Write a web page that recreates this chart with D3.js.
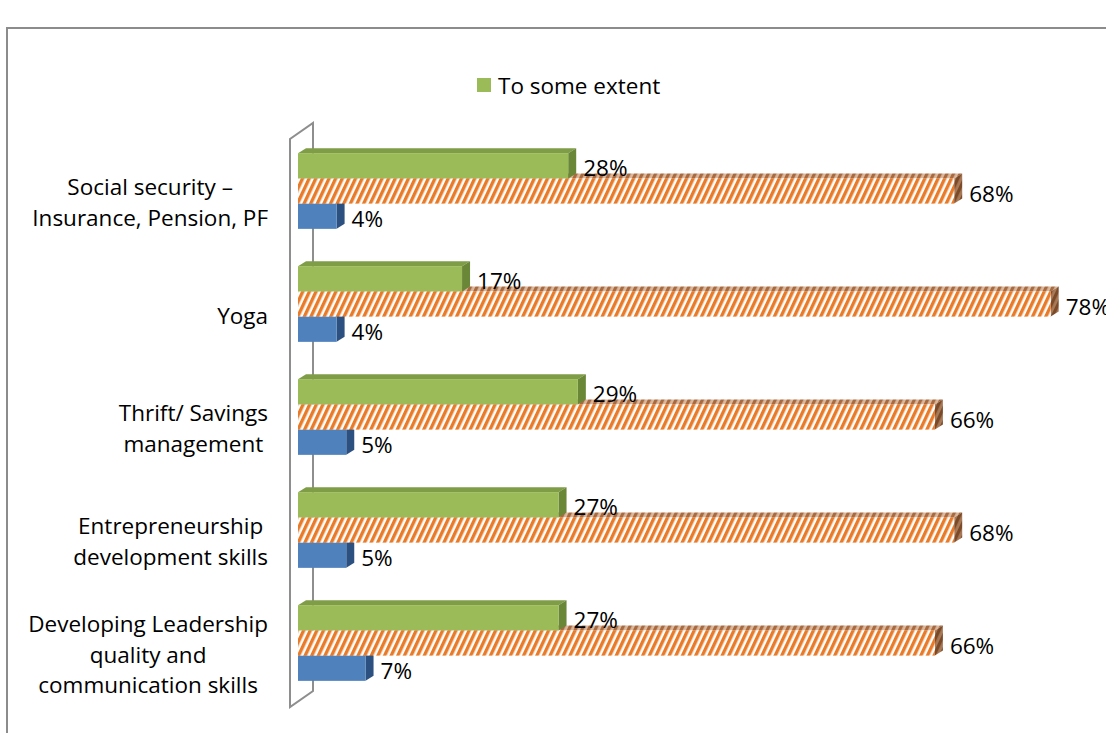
<!DOCTYPE html>
<html>
<head>
<meta charset="utf-8">
<script src="https://cdn.jsdelivr.net/npm/d3@7"></script>
<style>
  html, body { margin: 0; padding: 0; background: #fff; }
  svg { display: block; }
  text { font-family: "Open Sans", "Liberation Sans", sans-serif; fill: #000; }
</style>
</head>
<body>
<svg id="chart" width="1106" height="733"></svg>
<script>
// Training areas (multi-line labels split on "\n")
const categories = [
  "Social security –\nInsurance, Pension, PF",
  "Yoga",
  "Thrift/ Savings\nmanagement ",
  "Entrepreneurship\ndevelopment skills",
  "Developing Leadership\nquality and\ncommunication skills"
];
const seriesNames = ["To some extent", "To a great extent", "Not at all"];
const someExtent  = [0.28, 0.17, 0.29, 0.27, 0.27];
const greatExtent = [0.68, 0.78, 0.66, 0.68, 0.66];
const notAtAll    = [0.04, 0.04, 0.05, 0.05, 0.07];

const svg = d3.select("#chart");
const W = 1106, H = 733;
const FS = 22.5;

// chart frame
svg.append("path")
  .attr("d", `M7,${H} L7,28 L${W},28`)
  .attr("fill", "none").attr("stroke", "#8c8c8c").attr("stroke-width", 2);

const x = d3.scaleLinear().domain([0, 0.8]).range([298, 1070]);
const y = d3.scaleBand().domain(d3.range(categories.length))
  .range([134.5, 699.5]).paddingInner(0.33).paddingOuter(0.165);
const ySub = d3.scaleBand().domain(d3.range(3)).range([0, y.bandwidth()]);

const DX = 8, DY = 5;        // bar depth offset
const WX = 23, WY = 16;      // wall depth offset

// pattern fills for the hatched series
const defs = svg.append("defs");
function stripes(id, bg, fg, w) {
  const p = defs.append("pattern").attr("id", id)
    .attr("patternUnits", "userSpaceOnUse")
    .attr("width", 6).attr("height", 6)
    .attr("patternTransform", "rotate(25)");
  p.append("rect").attr("width", 6).attr("height", 6).attr("fill", bg);
  p.append("rect").attr("width", w).attr("height", 6).attr("fill", fg);
}
stripes("hatchFront", "#ffffff", "#e87a28", 3.4);
stripes("hatchTop", "#dcb89c", "#a86a40", 3.2);
stripes("hatchSide", "#a87a58", "#7b4a28", 3.2);

const styles = [
  { front: "#9bbb59", top: "#7f9c47", side: "#6a8738" },
  { front: "url(#hatchFront)", top: "url(#hatchTop)", side: "url(#hatchSide)" },
  { front: "#4f81bd", top: "#3e6aa0", side: "#2c5080" }
];
const series = [someExtent, greatExtent, notAtAll];

// 3D wall on the category axis
const wallTop = y.range()[0] + 4.5, wallBot = y.range()[1] + 7.5;
const x0 = x(0) - 8;
const wall = svg.append("g").attr("fill", "none").attr("stroke", "#8e8e8e").attr("stroke-width", 2);
wall.append("path").attr("d",
  `M${x0},${wallBot} L${x0},${wallTop} L${x0 + WX},${wallTop - WY} L${x0 + WX},${wallBot - WY} Z`);

// bars, drawn bottom series first so upper bars overlap top faces
const bars = svg.append("g");
categories.forEach((c, i) => {
  for (let s = 2; s >= 0; s--) {
    const v = series[s][i];
    const y0 = y(i) + ySub(s), h = ySub.bandwidth();
    const xa = x(0), xb = x(v);
    const st = styles[s];
    const g = bars.append("g");
    g.append("path").attr("fill", st.top)
      .attr("d", `M${xa},${y0} L${xa + DX},${y0 - DY} L${xb + DX},${y0 - DY} L${xb},${y0} Z`);
    g.append("path").attr("fill", st.side)
      .attr("d", `M${xb},${y0} L${xb + DX},${y0 - DY} L${xb + DX},${y0 + h - DY} L${xb},${y0 + h} Z`);
    g.append("rect").attr("x", xa).attr("y", y0).attr("width", xb - xa).attr("height", h)
      .attr("fill", st.front);
  }
});

// value labels
categories.forEach((c, i) => {
  for (let s = 0; s < 3; s++) {
    const v = series[s][i];
    svg.append("text")
      .attr("x", x(v) + DX + 7)
      .attr("y", y(i) + ySub(s) + ySub.bandwidth() / 2 + 2)
      .attr("dominant-baseline", "central")
      .attr("font-size", FS)
      .text(d3.format(".0%")(v));
  }
});

// category labels: lines centred on each other, block right-aligned to the axis
const labelRight = 268, lineH = 30.5;
categories.forEach((c, i) => {
  const lines = c.split("\n");
  const g = svg.append("g");
  const ts = lines.map(l => g.append("text").attr("font-size", FS).attr("text-anchor", "middle")
    .attr("dominant-baseline", "central").text(l));
  const maxW = d3.max(ts, t => t.node().getComputedTextLength());
  const cy = y(i) + y.bandwidth() / 2 + 11;
  ts.forEach((t, k) => {
    t.attr("x", labelRight - maxW / 2)
     .attr("y", cy + (k - (lines.length - 1) / 2) * lineH);
  });
});

// legend
const lg = svg.append("g").attr("transform", "translate(477,78)");
lg.append("rect").attr("width", 14).attr("height", 14).attr("fill", "#9bbb59");
lg.append("text").attr("x", 21).attr("y", 7.5).attr("dominant-baseline", "central")
  .attr("font-size", FS).text(seriesNames[0]);
</script>
</body>
</html>
